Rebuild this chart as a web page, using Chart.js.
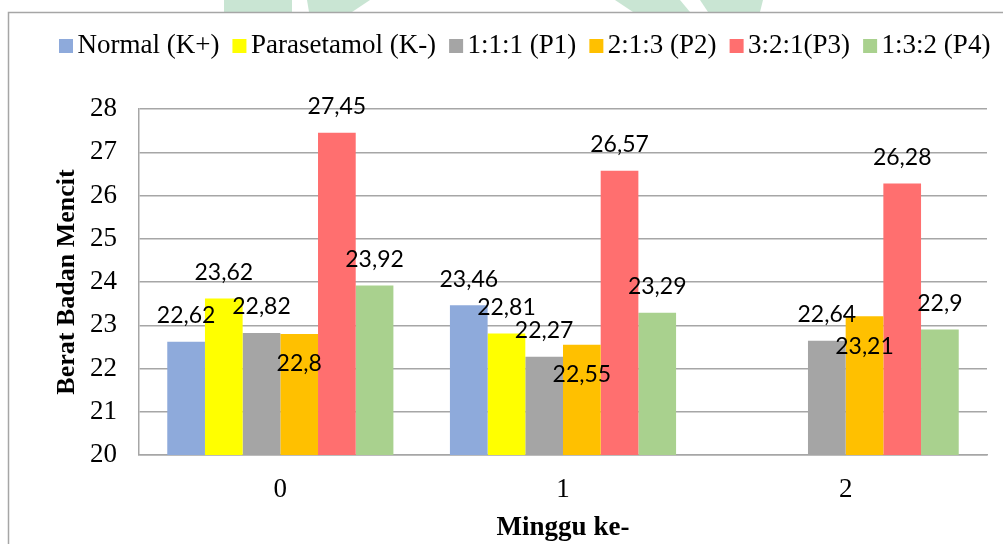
<!DOCTYPE html>
<html>
<head>
<meta charset="utf-8">
<title>Berat Badan Mencit</title>
<script src="https://cdn.jsdelivr.net/npm/chart.js"></script>
<style>
  body { margin: 0; background: #fff; }
  canvas { display: block; }
</style>
</head>
<body>
<canvas id="beratChart" width="1003" height="544"></canvas>
<script>
// data berat badan mencit per minggu
var minggu = ['0', '1', '2'];
var namaKelompok = ['Normal (K+)', 'Parasetamol (K-)', '1:1:1 (P1)', '2:1:3 (P2)', '3:2:1(P3)', '1:3:2 (P4)'];
var normal = [22.62, 23.46, null];
var parasetamol = [23.62, 22.81, null];
var p1 = [22.82, 22.27, 22.64];
var p2 = [22.8, 22.55, 23.21];
var p3 = [27.45, 26.57, 26.28];
var p4 = [23.92, 23.29, 22.9];
var yMin = 20, yMax = 28;

var warna = ['#8eaadb', '#ffff00', '#a5a5a5', '#ffc000', '#ff6f6f', '#a9d18e'];
var nilai = [normal, parasetamol, p1, p2, p3, p4];

var datasets = [];
for (var i = 0; i < nilai.length; i++) {
    datasets.push({
        label: namaKelompok[i],
        data: nilai[i],
        backgroundColor: warna[i],
        borderWidth: 0
    });
}

var serif = "'Liberation Serif', 'Times New Roman', serif";

// bingkai + watermark
var latar = {
    id: 'latar',
    beforeDraw: function(chart) {
        var ctx = chart.ctx;
        ctx.save();
        ctx.fillStyle = '#fff';
        ctx.fillRect(0, 0, chart.width, chart.height);
        ctx.fillStyle = '#c9e5d3';
        ctx.fillRect(224, 0, 68, 12);
        ctx.beginPath();
        ctx.moveTo(307, 0); ctx.lineTo(370, 0); ctx.lineTo(352, 12); ctx.lineTo(309, 12);
        ctx.fill();
        ctx.beginPath();
        ctx.moveTo(615, 0); ctx.lineTo(680, 0); ctx.lineTo(690, 12); ctx.lineTo(633, 12);
        ctx.fill();
        ctx.beginPath();
        ctx.moveTo(700, 0); ctx.lineTo(763, 0); ctx.lineTo(760, 12); ctx.lineTo(708, 12);
        ctx.fill();
        ctx.strokeStyle = '#a6a6a6';
        ctx.lineWidth = 1.5;
        ctx.strokeRect(8.5, 12.5, 2000, 2000);
        ctx.restore();
    }
};

// legenda di atas
var legenda = {
    id: 'legenda',
    afterDraw: function(chart) {
        var ctx = chart.ctx;
        ctx.save();
        ctx.font = '27px ' + serif;
        ctx.textBaseline = 'middle';
        ctx.textAlign = 'left';
        var x = 59;
        chart.data.datasets.forEach(function(ds) {
            ctx.fillStyle = ds.backgroundColor;
            ctx.fillRect(x, 39, 14, 14);
            ctx.fillStyle = '#000';
            ctx.fillText(ds.label, x + 18.5, 46);
            x += 18.5 + ctx.measureText(ds.label).width + 13;
        });
        ctx.restore();
    }
};

// label nilai (koma desimal)
var labelNilai = {
    id: 'labelNilai',
    afterDatasetsDraw: function(chart) {
        var ctx = chart.ctx;
        ctx.save();
        ctx.font = "23px Lato, 'Open Sans', sans-serif";
        ctx.fillStyle = '#000';
        ctx.textAlign = 'center';
        ctx.textBaseline = 'middle';
        chart.data.datasets.forEach(function(ds, di) {
            var meta = chart.getDatasetMeta(di);
            meta.data.forEach(function(bar, j) {
                var v = ds.data[j];
                if (v === null) return;
                var teks = String(v).replace('.', ',');
                // P2 labelnya di dalam batang
                var y = di === 3 ? bar.y + 30 : bar.y - 26;
                ctx.fillText(teks, bar.x, y);
            });
        });
        ctx.restore();
    }
};

var chart = new Chart(document.getElementById('beratChart').getContext('2d'), {
    type: 'bar',
    data: {
        labels: minggu,
        datasets: datasets
    },
    options: {
        responsive: false,
        animation: false,
        layout: {
            padding: { top: 109, right: 16, bottom: 0, left: 0 }
        },
        categoryPercentage: 0.8,
        barPercentage: 1.0,
        plugins: {
            legend: { display: false },
            tooltip: { enabled: false }
        },
        scales: {
            x: {
                grid: { display: false, drawTicks: false },
                border: { display: true, color: '#a6a6a6', width: 1.5 },
                ticks: {
                    color: '#000',
                    padding: 19,
                    font: { family: serif, size: 27 }
                },
                title: {
                    display: true,
                    text: 'Minggu ke-',
                    color: '#000',
                    padding: { top: 0, bottom: 0 },
                    font: { family: serif, size: 27, weight: 'bold' }
                },
                afterFit: function(scale) { scale.height = 89; }
            },
            y: {
                min: yMin,
                max: yMax,
                ticks: {
                    stepSize: 1,
                    color: '#000',
                    padding: 22,
                    font: { family: serif, size: 27 }
                },
                grid: { color: '#a6a6a6', lineWidth: 1.5, drawTicks: false },
                border: { display: true, color: '#a6a6a6', width: 1.5 },
                title: {
                    display: true,
                    text: 'Berat Badan Mencit',
                    color: '#000',
                    padding: { top: 52, bottom: 0 },
                    font: { family: serif, size: 26, weight: 'bold' }
                },
                afterFit: function(scale) { scale.width = 139; }
            }
        }
    },
    plugins: [latar, legenda, labelNilai]
});
</script>
</body>
</html>
